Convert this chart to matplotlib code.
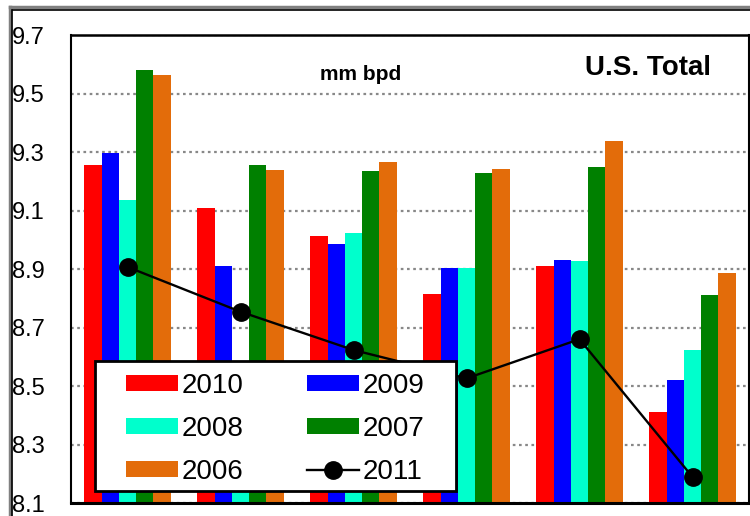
import numpy as np
import matplotlib.pyplot as plt
from matplotlib.lines import Line2D
from matplotlib.patches import Rectangle

plt.rcParams['font.family'] = ['Liberation Sans', 'DejaVu Sans']

# values (mm bpd), six periods
groups = ['1', '2', '3', '4', '5', '6']
y2010 = [9.256, 9.110, 9.013, 8.815, 8.910, 8.411]
y2009 = [9.296, 8.910, 8.985, 8.904, 8.931, 8.520]
y2008 = [9.136, 8.450, 9.023, 8.902, 8.926, 8.623]
y2007 = [9.582, 9.255, 9.235, 9.228, 9.249, 8.810]
y2006 = [9.563, 9.238, 9.266, 9.242, 9.338, 8.886]
y2011 = [8.907, 8.754, 8.623, 8.526, 8.660, 8.189]

series = [('2010', y2010, '#FF0000'), ('2009', y2009, '#0000FF'),
          ('2008', y2008, '#00FFCC'), ('2007', y2007, '#008000'),
          ('2006', y2006, '#E36C0A')]

fig = plt.figure(figsize=(7.5, 5.16), dpi=100)
ax = fig.add_axes([71/750, 13/516, 678/750, 468/516])

x = np.arange(len(groups))
w = 0.153
bars = {}
for i, (name, vals, col) in enumerate(series):
    bars[name] = ax.bar(x + (i - 2) * w, np.array(vals) - 8.1, bottom=8.1, width=w,
                        color=col, zorder=2)
line, = ax.plot(x, y2011, color='black', lw=1.7, marker='o', ms=12.5, zorder=3)

ax.set_xlim(-0.5, 5.5)
ax.set_ylim(8.1, 9.7)
ax.set_yticks(np.arange(8.1, 9.71, 0.2))
ax.set_yticklabels(['%.1f' % v for v in np.arange(8.1, 9.71, 0.2)], fontsize=17)
ax.tick_params(axis='y', length=0, pad=19)
ax.set_xticks([])
ax.yaxis.grid(True, color='#888888', ls=(0, (1.2, 1.6)), lw=1.6, zorder=0)
ax.set_axisbelow(True)

ax.spines['left'].set_linestyle((0, (1, 1)))
ax.spines['left'].set_linewidth(1.5)
ax.spines['top'].set_linewidth(1.8)
ax.spines['right'].set_linewidth(1.5)
ax.spines['bottom'].set_linewidth(2.2)

ax.text(361/750, 1 - 74/516, 'mm bpd', transform=fig.transFigure, fontsize=15,
        fontweight='bold', ha='center', va='center')
ax.text(648/750, 1 - 68/516, 'U.S. Total', transform=fig.transFigure, fontsize=20,
        fontweight='bold', ha='center', va='center')

# legend box drawn separately so the padding can differ in x and y
ax.add_patch(Rectangle((95/750, 1 - 491/516), 361/750, 130/516, transform=fig.transFigure,
                       facecolor='white', edgecolor='black', lw=2, zorder=4, clip_on=False))
handles = [bars['2010'], bars['2008'], bars['2006'], bars['2009'], bars['2007'], line]
labels = ['2010', '2008', '2006', '2009', '2007', '2011']
leg = ax.legend(handles, labels, ncol=2, loc='upper left',
                bbox_to_anchor=(126/750, 1 - 373/516), bbox_transform=fig.transFigure,
                fontsize=20, frameon=False, borderpad=0, borderaxespad=0,
                handlelength=1.87, handleheight=0.54, labelspacing=0.61,
                columnspacing=2.3, handletextpad=0.12)
leg.set_zorder(5)

# outer frame lines (top and left)
fig.add_artist(Line2D([10/750, 1], [1 - 7/516, 1 - 7/516], color='#808080', lw=2.5,
                      transform=fig.transFigure))
fig.add_artist(Line2D([12/750, 1], [1 - 10/516, 1 - 10/516], color='black', lw=1.2,
                      transform=fig.transFigure))
fig.add_artist(Line2D([10/750, 10/750], [0, 1 - 7/516], color='#808080', lw=2.5,
                      transform=fig.transFigure))
fig.add_artist(Line2D([12/750, 12/750], [0, 1 - 10/516], color='black', lw=1.2,
                      transform=fig.transFigure))

fig.savefig('out.png', dpi=100)
